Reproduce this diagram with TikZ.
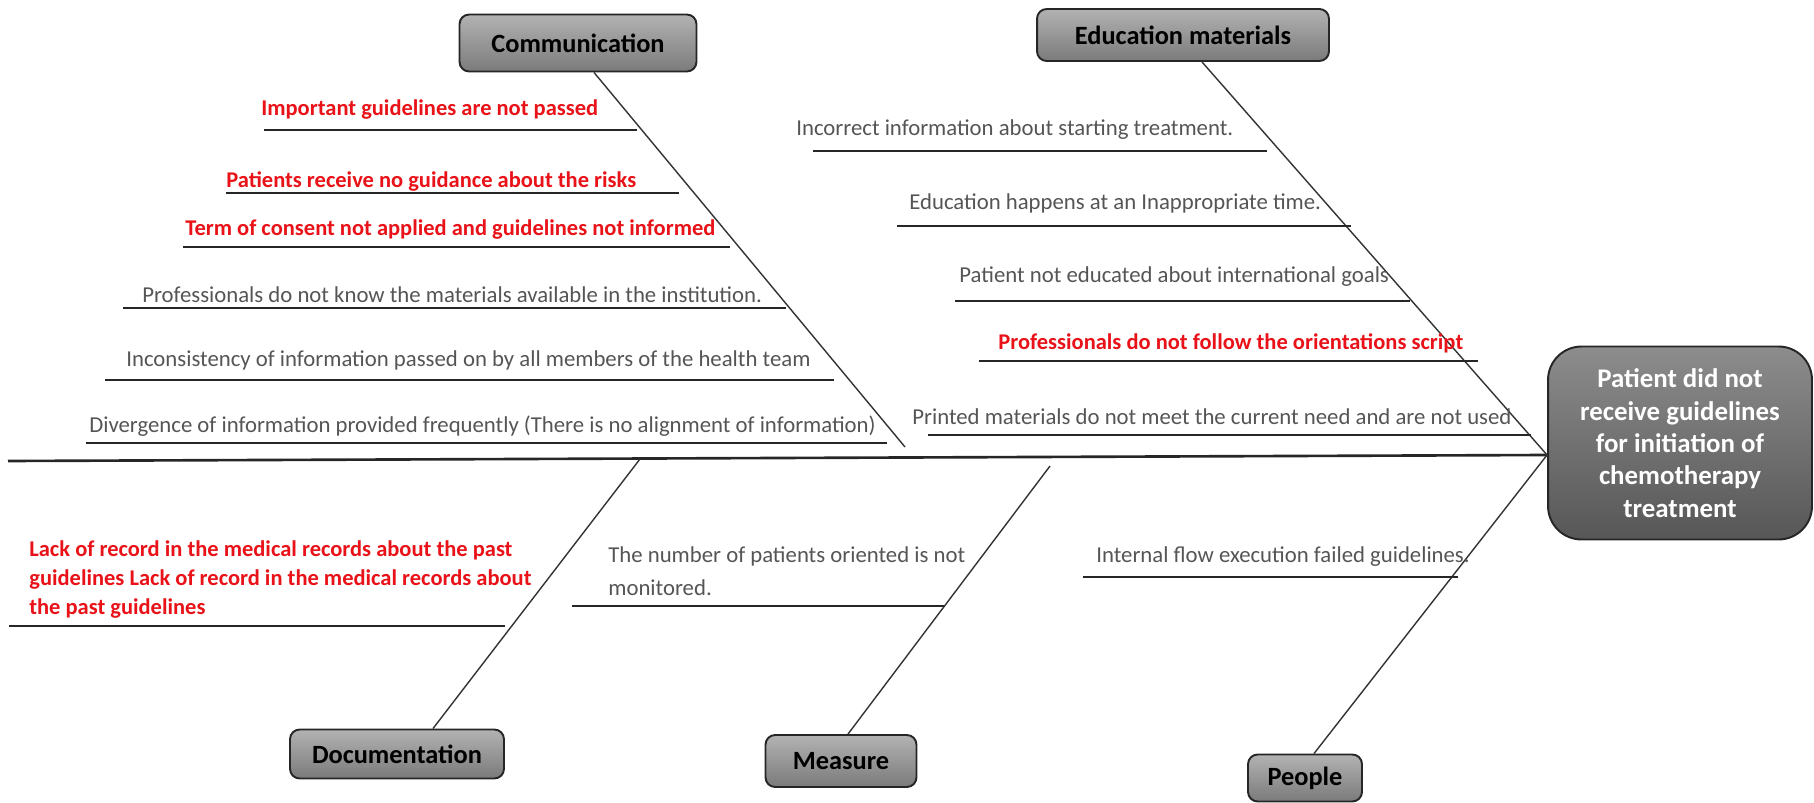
\documentclass[tikz,border=0pt]{standalone}
\usepackage{fontspec}
\setmainfont{Carlito}
\usetikzlibrary{calc, positioning}
\definecolor{causegray}{RGB}{85,85,85}
\definecolor{causered}{RGB}{232,18,24}

\begin{document}
\begin{tikzpicture}[
  x = 0.02cm, y = -0.02cm,
  category/.style = {draw=black!85, line width=1.1pt, rounded corners=5.5pt,
    top color=black!30, bottom color=black!52, text=black, inner sep=0pt,
    font=\fontsize{15}{18}\selectfont\bfseries},
  effectbox/.style = {category, rounded corners=19pt, top color=black!45,
    bottom color=black!66, text=white, align=center,
    font=\fontsize{15.3}{18.4}\selectfont\bfseries},
  cause/.style = {anchor=west, inner sep=0pt, text=causegray,
    font=\fontsize{12.95}{15}\selectfont},
  redcause/.style = {cause, text=causered, font=\fontsize{12.8}{15}\selectfont\bfseries},
  bone/.style = {line width=0.8pt, black!80},
  uline/.style = {line width=1.1pt, black!85},
  spine/.style = {line width=1.5pt, black!85}
]
  \useasboundingbox (0,0) rectangle (1814,803);

  % effect and categories
  \node[effectbox, minimum width=5.28cm, minimum height=3.86cm] (effect) at (1680,443)
    {Patient did not\\receive guidelines\\for initiation of\\chemotherapy\\treatment};
  \node[category, minimum width=4.74cm, minimum height=1.14cm] (comm) at (578,43) {Communication};
  \node[category, minimum width=5.84cm, minimum height=1.04cm] (edu) at (1183,35) {Education materials};
  \node[category, minimum width=4.28cm, minimum height=0.98cm] (doc) at (397,754) {Documentation};
  \node[category, minimum width=3.02cm, minimum height=1.04cm] (meas) at (841,761) {Measure};
  \node[category, minimum width=2.28cm, minimum height=0.94cm] (people) at (1305,778) {People};

  % spine and bones
  \coordinate (head) at ($(effect.west)+(0,12)$);
  \coordinate (tail) at (8,461);
  \coordinate (commend) at (905,447);
  \coordinate (docend) at (640,459);
  \coordinate (measend) at (1050,466);
  \draw[spine] (tail) -- (head);
  \draw[bone] ($(comm.south)+(16,0)$) -- (commend);
  \draw[bone] ($(edu.south)+(19,0)$) -- (head);
  \draw[bone] ($(doc.north)+(36,0)$) -- (docend);
  \draw[bone] ($(meas.north)+(7,0)$) -- (measend);
  \draw[bone] ($(people.north)+(9,0)$) -- (head);

  % communication
  \node[redcause] (c1) at (261,110) {Important guidelines are not passed};
  \draw[uline] (264,130) -- (637,130);
  \node[redcause] (c2) at (226,182) {Patients receive no guidance about the risks};
  \draw[uline] (226,193) -- (679,193);
  \node[redcause] (c3) at (185,230) {Term of consent not applied and guidelines not informed};
  \draw[uline] (183,247) -- (730,247);
  \node[cause] (c4) at (142,295) {Professionals do not know the materials available in the institution.};
  \draw[uline] (123,308) -- (786,308);
  \node[cause] (c5) at (126,360) {Inconsistency of information passed on by all members of the health team};
  \draw[uline] (105,380) -- (834,380);
  \node[cause] (c6) at (89,426) {Divergence of information provided frequently (There is no alignment of information)};
  \draw[uline] (86,443) -- (887,443);

  % education materials
  \node[cause] (e1) at (796,130) {Incorrect information about starting treatment.};
  \draw[uline] (813,151) -- (1267,151);
  \node[cause] (e2) at (909,203) {Education happens at an Inappropriate time.};
  \draw[uline] (897,226) -- (1351,226);
  \node[cause] (e3) at (959,277) {Patient not educated about international goals};
  \draw[uline] (955,301) -- (1410,301);
  \node[redcause] (e4) at (998,343) {Professionals do not follow the orientations script};
  \draw[uline] (979,361) -- (1478,361);
  \node[cause] (e5) at (912,417) {Printed materials do not meet the current need and are not used};
  \draw[uline] (928,435) -- (1531,435);

  % documentation, measure, people
  \node[redcause, align=left, font=\fontsize{12.8}{16.5}\selectfont\bfseries] (d1) at (29,580)
    {Lack of record in the medical records about the past\\guidelines Lack of record in the medical records about\\the past guidelines};
  \draw[uline] (9,626) -- (505,626);
  \node[cause, align=left, font=\fontsize{12.95}{18.6}\selectfont] (m1) at (608,571)
    {The number of patients oriented is not\\monitored.};
  \draw[uline] (572,606) -- (944,606);
  \node[cause] (p1) at (1096,557) {Internal flow execution failed guidelines.};
  \draw[uline] (1083,577) -- (1458,577);
\end{tikzpicture}
\end{document}
